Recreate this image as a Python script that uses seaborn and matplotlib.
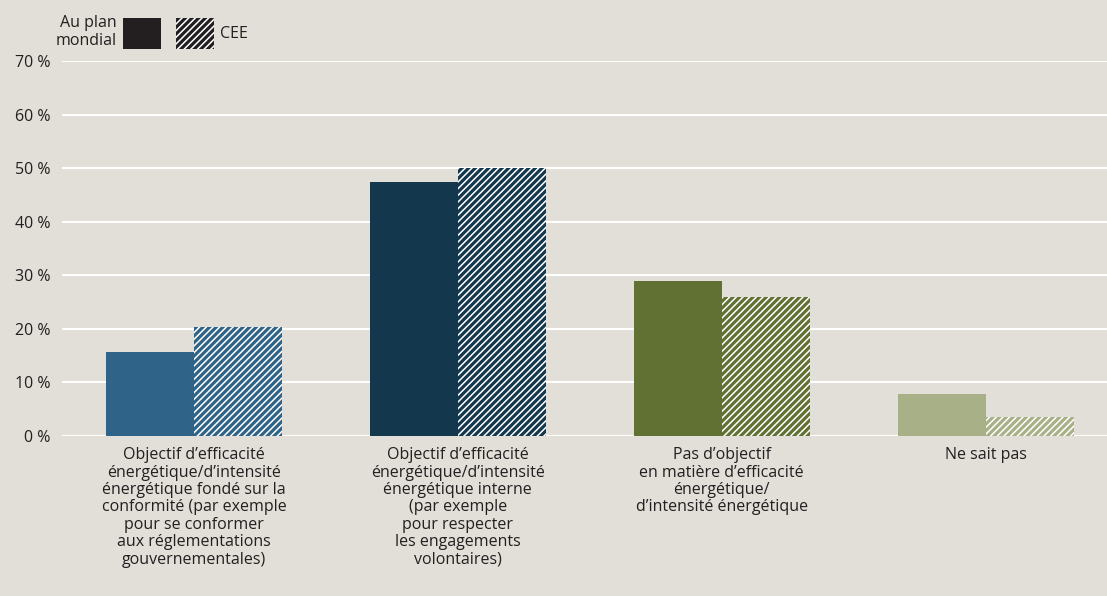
import matplotlib
matplotlib.use("Agg")
import matplotlib.pyplot as plt
import seaborn as sns
import pandas as pd
from matplotlib.patches import Rectangle

categories = [
    "Objectif d’efficacité\nénergétique/d’intensité\nénergétique fondé sur la\nconformité (par exemple\npour se conformer\naux réglementations\ngouvernementales)",
    "Objectif d’efficacité\nénergétique/d’intensité\nénergétique interne\n(par exemple\npour respecter\nles engagements\nvolontaires)",
    "Pas d’objectif\nen matière d’efficacité\nénergétique/\nd’intensité énergétique",
    "Ne sait pas",
]
series = ["Au plan mondial", "CEE"]
global_vals = [15.7, 47.5, 28.9, 7.8]
cee_vals = [20.4, 50.1, 26.0, 3.6]
bar_colors = ["#2f6387", "#13374d", "#617033", "#a8b088"]
yticks = [0, 10, 20, 30, 40, 50, 60, 70]
ytick_labels = [f"{v} %" for v in yticks]

bg = "#e2dfd8"
txt = "#231f20"
fs = 11.5

sns.set_theme(style="white")
plt.rcParams["font.family"] = ["Open Sans", "DejaVu Sans"]
plt.rcParams["hatch.linewidth"] = 1.1

df = pd.DataFrame({
    "cat": categories * 2,
    "serie": [series[0]] * 4 + [series[1]] * 4,
    "val": global_vals + cee_vals,
})

fig = plt.figure(figsize=(11.07, 5.96), dpi=100, facecolor=bg)
ax = fig.add_axes([62 / 1107, (596 - 436) / 596, 1 - 62 / 1107, (436 - 61) / 596])
ax.set_facecolor(bg)

sns.barplot(data=df, x="cat", y="val", hue="serie", hue_order=series,
            order=categories, width=0.667, ax=ax, legend=False,
            saturation=1, linewidth=0, zorder=3)

for i, bar in enumerate(ax.containers[0]):
    bar.set_facecolor(bar_colors[i])
    bar.set_edgecolor(bar_colors[i])
    bar.set_linewidth(0)
for i, bar in enumerate(ax.containers[1]):
    bar.set_facecolor(bar_colors[i])
    bar.set_edgecolor("white")
    bar.set_hatch("/////")
    bar.set_linewidth(0)

ax.set_ylim(0, 70)
ax.set_xlim(-0.5, 3.46)
ax.set_yticks(yticks)
ax.set_yticklabels(ytick_labels, fontsize=fs, color=txt)
ax.set_xticks(range(len(categories)))
ax.set_xticklabels(categories, fontsize=fs, color=txt, linespacing=1.12, va="top")
ax.tick_params(axis="both", length=0)
ax.tick_params(axis="x", pad=8)
ax.tick_params(axis="y", pad=8.5)
ax.set_xlabel("")
ax.set_ylabel("")
ax.grid(axis="y", color="white", linewidth=1.5, zorder=0)
ax.set_axisbelow(True)
for s in ax.spines.values():
    s.set_visible(False)

# legend
fig.text(117 / 1107, 1 - 32 / 596, "Au plan\nmondial", ha="right", va="center",
         fontsize=fs, color=txt, linespacing=1.15)
fig.patches.append(Rectangle((123 / 1107, 1 - 49 / 596), 38 / 1107, 31 / 596,
                             transform=fig.transFigure, facecolor=txt,
                             edgecolor=txt, linewidth=0))
fig.patches.append(Rectangle((176 / 1107, 1 - 49 / 596), 38 / 1107, 31 / 596,
                             transform=fig.transFigure, facecolor=txt,
                             edgecolor="white", hatch="/////", linewidth=0))
fig.text(220 / 1107, 1 - 34 / 596, "CEE", ha="left", va="center",
         fontsize=fs, color=txt)

fig.savefig("out.png", dpi=100, facecolor=bg)
